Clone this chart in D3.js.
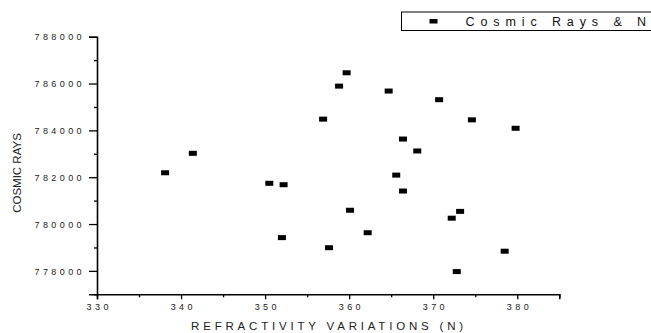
<!DOCTYPE html>
<html>
<head>
<meta charset="utf-8">
<script src="https://cdn.jsdelivr.net/npm/d3@7"></script>
<style>
  body { margin: 0; background: #fff; }
  svg { display: block; font-family: Arial, "Liberation Sans", sans-serif; }
</style>
</head>
<body>
<svg width="651" height="333"></svg>
<script>
// refractivity (N) vs cosmic ray counts
var refractivity = [338.1, 341.4, 350.5, 352.2, 352.0, 357.6, 360.1, 362.2, 365.6, 366.4, 372.2, 373.2,
                    372.8, 378.5, 359.7, 358.8, 364.7, 370.7, 356.9, 374.6, 379.8, 366.4, 368.1];
var cosmicRays = [782190, 783020, 781740, 781680, 779420, 778990, 780590, 779630, 782090, 781410, 780250, 780540,
                  777970, 778840, 786460, 785890, 785680, 785310, 784480, 784450, 784090, 783630, 783120];
var xMajor = [330, 340, 350, 360, 370, 380],
    xMinor = [335, 345, 355, 365, 375, 385],
    yMajor = [778000, 780000, 782000, 784000, 786000, 788000],
    yMinor = [777000, 779000, 781000, 783000, 785000, 787000];
var legendLabel = "Cosmic Rays & N";

var svg = d3.select("svg"),
    margin = {top: 36.7, left: 97},
    width = 462.3,
    height = 257.6,
    g = svg.append("g").attr("transform", "translate(" + margin.left + "," + margin.top + ")");

var xScale = d3.scaleLinear().domain([330, 385]).range([0, width]),
    yScale = d3.scaleLinear().domain([777000, 788000]).range([height, 0]);

var data = refractivity.map(function (d, i) {
    return {n: d, rays: cosmicRays[i]};
});

// axes: major ticks with labels, minor ticks without
var xAxis = g.append("g").attr("transform", "translate(0," + height + ")");
xAxis.call(d3.axisBottom(xScale).tickValues(xMajor).tickSize(5).tickFormat(d3.format("d")));
xAxis.call(function (a) {
    a.append("g").call(d3.axisBottom(xScale).tickValues(xMinor).tickSize(3).tickFormat(""))
        .select(".domain").remove();
});

var yAxis = g.append("g");
yAxis.call(d3.axisLeft(yScale).tickValues(yMajor).tickSize(8).tickFormat(d3.format("d")));
yAxis.call(function (a) {
    a.append("g").call(d3.axisLeft(yScale).tickValues(yMinor).tickSize(3).tickFormat(""))
        .select(".domain").remove();
});

g.selectAll(".domain").attr("stroke", "#000").attr("stroke-width", 1.6);
g.selectAll(".tick line").attr("stroke", "#000").attr("stroke-width", 1.3);
g.selectAll(".tick text")
    .attr("fill", "#222")
    .style("font-size", "9px")
    .style("letter-spacing", "3.4px");
xAxis.selectAll(".tick text").attr("y", 9).attr("dx", "1.7px");
yAxis.selectAll(".tick text").attr("x", -12).attr("dy", "0.36em");

// axis titles
svg.append("text")
    .attr("x", 329)
    .attr("y", 330)
    .attr("text-anchor", "middle")
    .style("font-size", "11.5px")
    .style("letter-spacing", "3.8px")
    .attr("fill", "#222")
    .text("REFRACTIVITY VARIATIONS (N)");

svg.append("text")
    .attr("transform", "translate(21,173) rotate(-90)")
    .attr("text-anchor", "middle")
    .style("font-size", "11.5px")
    .attr("fill", "#222")
    .text("COSMIC RAYS");

// points
g.selectAll(".pt")
    .data(data)
    .enter().append("rect")
    .attr("class", "pt")
    .attr("x", function (d) { return xScale(d.n) - 4; })
    .attr("y", function (d) { return yScale(d.rays) - 2.5; })
    .attr("width", 8)
    .attr("height", 5)
    .attr("fill", "#000");

// legend (runs off the right edge as in the original)
var legend = svg.append("g").attr("transform", "translate(401.5,12)");
legend.append("rect")
    .attr("width", 300)
    .attr("height", 18.5)
    .attr("fill", "#fff")
    .attr("stroke", "#000")
    .attr("stroke-width", 1);
legend.append("rect")
    .attr("x", 28)
    .attr("y", 7)
    .attr("width", 8)
    .attr("height", 4.5)
    .attr("fill", "#000");
legend.append("text")
    .attr("x", 64)
    .attr("y", 14)
    .style("font-size", "12.5px")
    .style("letter-spacing", "5.9px")
    .attr("fill", "#111")
    .text(legendLabel);
</script>
</body>
</html>
